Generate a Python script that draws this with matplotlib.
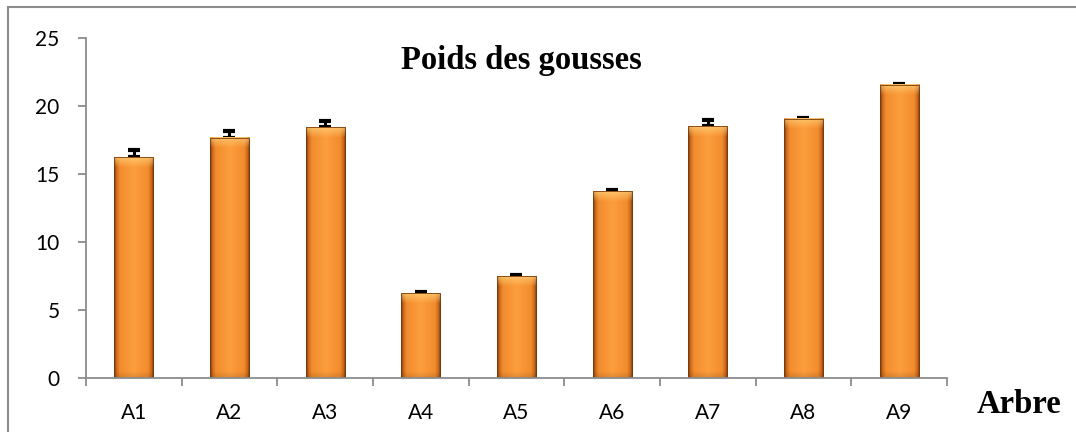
import numpy as np
import matplotlib
matplotlib.use("Agg")
import matplotlib.pyplot as plt
from matplotlib.colors import to_rgb
from matplotlib.patches import Rectangle

# data
arbres = ["A1", "A2", "A3", "A4", "A5", "A6", "A7", "A8", "A9"]
poids = [16.25, 17.65, 18.45, 6.25, 7.5, 13.75, 18.5, 19.05, 21.55]
erreurs = [0.5, 0.5, 0.45, 0.1, 0.1, 0.1, 0.45, 0.05, 0.05]

plt.rcParams["font.family"] = ["Lato", "DejaVu Sans"]

fig = plt.figure(figsize=(10.76, 4.32), dpi=100)
ax = fig.add_axes([0.0799, 0.125, 0.8002, 0.787])

x = np.arange(len(arbres))
w = 0.41

# horizontal shading of the Excel style bars
stops = [(0.0, "#6e3206"), (0.05, "#c8661a"), (0.14, "#f28c2c"),
         (0.5, "#fd9e3e"), (0.86, "#f28c2c"), (0.95, "#c8661a"), (1.0, "#6e3206")]
pos = np.array([s[0] for s in stops])
cols = np.array([to_rgb(s[1]) for s in stops])
nx = 60
u = np.linspace(0, 1, nx)
row = np.stack([np.interp(u, pos, cols[:, k]) for k in range(3)], axis=-1)
clair = np.array(to_rgb("#ffd47e"))

for xi, h in zip(x, poids):
    ny = 300
    yy = np.linspace(h, 0, ny)
    img = np.repeat(row[None, :, :], ny, axis=0).copy()
    # light bevel at the top, fading downwards
    d = h - yy
    a = np.clip(1 - d / 0.75, 0, 1) * 0.7
    img = img * (1 - a[:, None, None]) + clair * a[:, None, None]
    # slightly darker foot
    b = np.clip(1 - yy / 0.5, 0, 1) * 0.12
    img = img * (1 - b[:, None, None])
    ax.imshow(img, extent=(xi - w / 2, xi + w / 2, 0, h), aspect="auto",
              interpolation="bilinear", zorder=2)
    ax.add_patch(Rectangle((xi - w / 2, 0), w, h, fill=False,
                           edgecolor="#7a3c0c", lw=0.6, zorder=3))

ax.errorbar(x, poids, yerr=[np.zeros(len(erreurs)), erreurs], fmt="none",
            ecolor="black", elinewidth=2.2, capsize=4.5, capthick=3, zorder=1)

ax.set_xlim(-0.5, len(arbres) - 0.5)
ax.set_ylim(0, 25)
ax.set_yticks([0, 5, 10, 15, 20, 25])
ax.set_xticks(x)
ax.set_xticklabels(arbres)
ax.set_xticks(np.arange(-0.5, len(arbres)), minor=True)

gris = "#8c8c8c"
for s in ["top", "right"]:
    ax.spines[s].set_visible(False)
for s in ["left", "bottom"]:
    ax.spines[s].set_color(gris)
    ax.spines[s].set_linewidth(1.3)
    ax.spines[s].set_zorder(5)
ax.tick_params(axis="x", which="major", length=0, pad=18, labelsize=15)
ax.tick_params(axis="x", which="minor", length=6, width=1.3, color=gris)
ax.tick_params(axis="y", length=6, width=1.3, color=gris, pad=13, labelsize=15)

ax.text(0.506, 0.935, "Poids des gousses", transform=ax.transAxes,
        ha="center", va="center", fontsize=23.5, fontweight="bold",
        family="Liberation Serif")
fig.text(0.947, 0.064, "Arbre", ha="center", va="center", fontsize=23.5,
         fontweight="bold", family="Liberation Serif")

# frame around the chart area
fig.patches.append(Rectangle((0.0075, -0.1), 1.2, 1.0835, transform=fig.transFigure,
                             fill=False, edgecolor=gris, lw=1.5))

fig.savefig("out.png", dpi=100)
